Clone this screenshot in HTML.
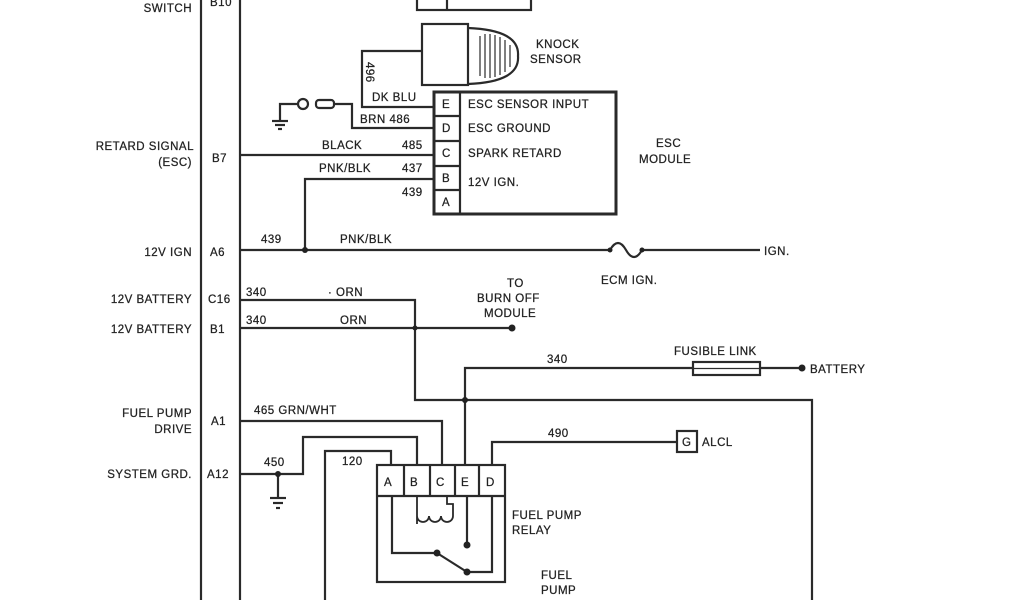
<!DOCTYPE html>
<html><head><meta charset="utf-8"><style>
html,body{margin:0;padding:0;background:#fff;width:1024px;height:600px;overflow:hidden}
svg text{font-family:"Liberation Sans",sans-serif;font-size:11.5px;fill:#222;letter-spacing:0.5px;stroke:#222;stroke-width:0.25}
</style></head><body>
<svg width="1024" height="600" viewBox="0 0 1024 600" xmlns="http://www.w3.org/2000/svg">
<g stroke="#2a2a2a" stroke-width="2.2" fill="none">
<line x1="201" y1="0" x2="201" y2="600"/>
<line x1="240" y1="0" x2="240" y2="600"/>
<rect x="417" y="-4" width="114" height="14"/>
<line x1="447" y1="-4" x2="447" y2="10"/>
<rect x="422" y="24" width="46" height="61"/>
<path d="M468 28 Q520 30 518 56 Q520 82 468 84"/>
<g stroke-width="1.2"><line x1="480" y1="36" x2="480" y2="76"/><line x1="485" y1="34" x2="485" y2="78"/><line x1="490" y1="34" x2="490" y2="78"/><line x1="495" y1="35" x2="495" y2="77"/><line x1="500" y1="37" x2="500" y2="75"/><line x1="505" y1="40" x2="505" y2="72"/><line x1="510" y1="45" x2="510" y2="67"/></g>
<polyline points="422,51 362,51 362,107 433,107"/>
<rect x="434" y="92" width="182" height="122" stroke-width="3"/>
<line x1="460" y1="92" x2="460" y2="214"/>
<line x1="434" y1="116" x2="460" y2="116"/>
<line x1="434" y1="141" x2="460" y2="141"/>
<line x1="434" y1="166" x2="460" y2="166"/>
<line x1="434" y1="190" x2="460" y2="190"/>
<polyline points="434,128 352,128 352,104 335,104"/>
<rect x="316" y="100" width="18" height="8" rx="3"/>
<circle cx="303" cy="104" r="5"/>
<polyline points="298,104 280,104 280,121"/>
<line x1="272" y1="121" x2="288" y2="121"/><line x1="275" y1="125" x2="285" y2="125"/><line x1="278" y1="129" x2="282" y2="129"/>
<line x1="240" y1="155" x2="434" y2="155"/>
<polyline points="434,179 305,179 305,250"/>
<line x1="240" y1="250" x2="610" y2="250"/>
<path d="M610 250 Q618 236 626 250 Q634 264 642 250"/>
<line x1="642" y1="250" x2="760" y2="250"/>
<polyline points="240,300 415,300 415,400 812,400 812,600"/>
<line x1="240" y1="328" x2="512" y2="328"/>
<polyline points="465,465 465,368 693,368"/>
<rect x="693" y="362" width="67" height="13"/>
<line x1="693" y1="368.5" x2="760" y2="368.5" stroke-width="1.2"/>
<line x1="760" y1="368" x2="802" y2="368"/>
<polyline points="240,421 442,421 442,465"/>
<polyline points="240,474 303,474 303,437 417,437 417,465"/>
<polyline points="278,474 278,498"/>
<line x1="270" y1="498" x2="286" y2="498"/><line x1="273" y1="503" x2="283" y2="503"/><line x1="276" y1="508" x2="280" y2="508"/>
<polyline points="325,600 325,451 391,451 391,465"/>
<polyline points="492,465 492,442 677,442"/>
<rect x="677" y="431" width="20" height="21"/>
<rect x="377" y="465" width="128" height="117"/>
<line x1="377" y1="496" x2="505" y2="496"/>
<line x1="404" y1="465" x2="404" y2="496"/>
<line x1="430" y1="465" x2="430" y2="496"/>
<line x1="455" y1="465" x2="455" y2="496"/>
<line x1="479" y1="465" x2="479" y2="496"/>
<polyline points="392,496 392,553 437,553"/>
<line x1="437" y1="553" x2="467" y2="572"/>
<polyline points="467,572 492,572 492,496"/>
<line x1="467" y1="496" x2="467" y2="545"/>
<path d="M417 496 V524 M417 516 a6 6 0 0 0 12 0 a6 6 0 0 0 12 0 a6 6 0 0 0 12 0 V504 H447 V496" stroke-width="1.8"/>
</g>
<g fill="#222">
<circle cx="305" cy="250" r="3"/><circle cx="610" cy="250" r="2.5"/><circle cx="642" cy="250" r="2.5"/>
<circle cx="415" cy="328" r="2.5"/><circle cx="512" cy="328" r="3.5"/>
<circle cx="465" cy="400" r="3"/><circle cx="802" cy="368" r="3.5"/>
<circle cx="278" cy="474" r="3"/>
<circle cx="437" cy="553" r="3.5"/><circle cx="467" cy="572" r="3.5"/><circle cx="467" cy="545" r="3.5"/>
</g>
<text x="192" y="12" text-anchor="end">SWITCH</text><text x="210" y="6">B10</text>
<text x="536" y="48">KNOCK</text><text x="530" y="63">SENSOR</text>
<text x="366" y="62" transform="rotate(90 366 62)" font-size="10">496</text>
<text x="372" y="101">DK BLU</text>
<text x="360" y="123">BRN 486</text>
<text x="322" y="149">BLACK</text><text x="402" y="149">485</text>
<text x="319" y="172">PNK/BLK</text><text x="402" y="172">437</text>
<text x="402" y="196">439</text>
<text x="442" y="108">E</text><text x="442" y="132">D</text><text x="442" y="157">C</text><text x="442" y="182">B</text><text x="442" y="206">A</text>
<text x="468" y="108">ESC SENSOR INPUT</text><text x="468" y="132">ESC GROUND</text>
<text x="468" y="157">SPARK RETARD</text><text x="468" y="186">12V IGN.</text>
<text x="656" y="147" font-size="11">ESC</text><text x="639" y="163" font-size="11">MODULE</text>
<text x="194" y="150" text-anchor="end">RETARD SIGNAL</text><text x="192" y="166" text-anchor="end">(ESC)</text><text x="212" y="162">B7</text>
<text x="192" y="256" text-anchor="end">12V IGN</text><text x="210" y="256">A6</text>
<text x="261" y="243">439</text><text x="340" y="243">PNK/BLK</text>
<text x="764" y="255">IGN.</text><text x="601" y="284">ECM IGN.</text>
<text x="192" y="303" text-anchor="end">12V BATTERY</text><text x="208" y="303">C16</text>
<text x="192" y="333" text-anchor="end">12V BATTERY</text><text x="210" y="333">B1</text>
<text x="246" y="296">340</text><text x="328" y="296">· ORN</text>
<text x="246" y="324">340</text><text x="340" y="324">ORN</text>
<text x="507" y="287">TO</text><text x="477" y="302">BURN OFF</text><text x="484" y="317">MODULE</text>
<text x="547" y="363">340</text><text x="674" y="355">FUSIBLE LINK</text><text x="810" y="373">BATTERY</text>
<text x="192" y="417" text-anchor="end">FUEL PUMP</text><text x="192" y="433" text-anchor="end">DRIVE</text><text x="211" y="425">A1</text>
<text x="254" y="414">465&#160;GRN/WHT</text>
<text x="548" y="437">490</text><text x="682" y="446">G</text><text x="702" y="446">ALCL</text>
<text x="192" y="478" text-anchor="end">SYSTEM GRD.</text><text x="207" y="478">A12</text>
<text x="264" y="466">450</text><text x="342" y="465">120</text>
<text x="384" y="486">A</text><text x="410" y="486">B</text><text x="436" y="486">C</text><text x="461" y="486">E</text><text x="486" y="486">D</text>
<text x="512" y="519">FUEL PUMP</text><text x="512" y="534">RELAY</text>
<text x="541" y="579">FUEL</text><text x="541" y="594">PUMP</text>
</svg>
</body></html>
